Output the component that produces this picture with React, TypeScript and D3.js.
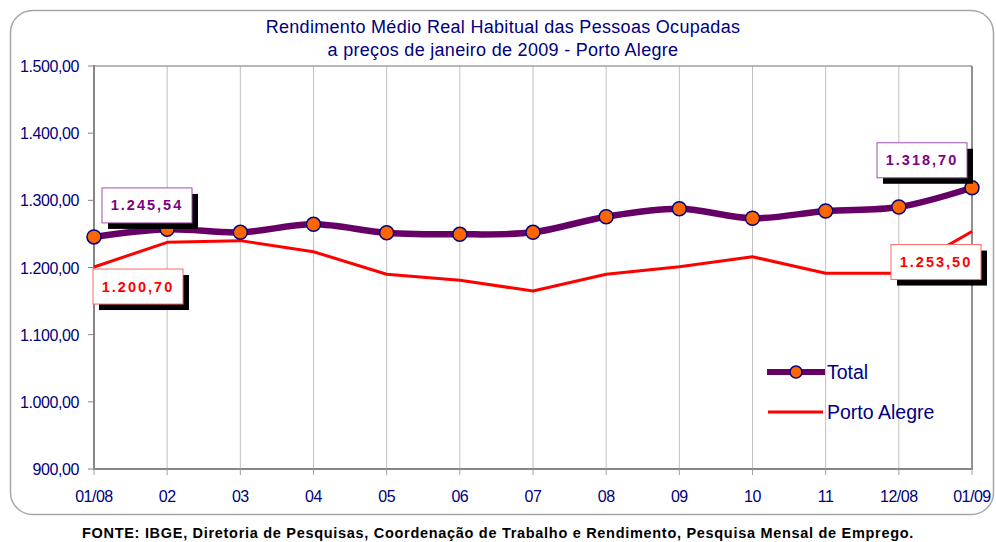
import React from 'react';
import * as d3 from 'd3';

// categories and values
const months = ['01/08', '02', '03', '04', '05', '06', '07', '08', '09', '10', '11', '12/08', '01/09'];
const totalValues = [1245.54, 1256.8, 1252.4, 1264.3, 1251.8, 1249.4, 1252.4, 1275.6, 1287.5, 1273.3, 1284.1, 1290.1, 1318.7];
const portoAlegreValues = [1200.7, 1237.5, 1240.0, 1223.5, 1190.0, 1181.0, 1165.0, 1190.0, 1201.0, 1216.0, 1191.4, 1191.5, 1253.5];
const yTicks = [900, 1000, 1100, 1200, 1300, 1400, 1500];
const titleLines = ['Rendimento Médio Real Habitual das Pessoas Ocupadas', 'a preços de janeiro de 2009 - Porto Alegre'];
const source = 'FONTE: IBGE, Diretoria de Pesquisas, Coordenação de Trabalho e Rendimento, Pesquisa Mensal de Emprego.';

const W = 996;
const H = 542;
const plot = { left: 94, right: 972, top: 66, bottom: 469 };

const NAVY = '#000080';
const PURPLE = '#660066';
const RED = '#FF0000';
const ORANGE = '#FF6600';

const fmt = (v: number) => {
  const [i, d] = v.toFixed(2).split('.');
  return i.replace(/\B(?=(\d{3})+(?!\d))/g, '.') + ',' + d;
};

const Label = ({ x, y, text, color, border }: { x: number; y: number; text: string; color: string; border: string }) => {
  const w = 90;
  const h = 35;
  return (
    <g>
      <rect x={x + 6} y={y + 6} width={w} height={h} fill="#000" />
      <rect x={x} y={y} width={w} height={h} fill="#fff" stroke={border} strokeWidth={1} />
      <text x={x + w / 2} y={y + h / 2 + 5} textAnchor="middle" fill={color}
        style={{ font: 'bold 14.5px "Liberation Sans", Arial, sans-serif', letterSpacing: '2px' }}>
        {text}
      </text>
    </g>
  );
};

export default function App() {
  const x = d3.scalePoint<string>().domain(months).range([plot.left, plot.right]);
  const y = d3.scaleLinear().domain([900, 1500]).range([plot.bottom, plot.top]);

  const totalLine = d3.line<number>()
    .x((_, i) => x(months[i])!)
    .y(d => y(d))
    .curve(d3.curveCatmullRom.alpha(0.5));
  const paLine = d3.line<number>()
    .x((_, i) => x(months[i])!)
    .y(d => y(d));

  const last = months.length - 1;
  const font = '"Liberation Sans", Arial, sans-serif';

  return (
    <svg width={W} height={H} style={{ position: 'absolute', left: 0, top: 0, background: '#fff' }}>
      {/* outer frame */}
      <rect x={10.5} y={10.5} width={983} height={504} rx={22} fill="#fff" stroke="#a6a6a6" strokeWidth={1.5} />

      {/* title */}
      {titleLines.map((t, i) => (
        <text key={i} x={503} y={33 + i * 23} textAnchor="middle" fill={NAVY}
          style={{ font: `18px ${font}`, letterSpacing: '0.3px' }}>{t}</text>
      ))}

      {/* vertical gridlines */}
      {months.map(m => (
        <line key={m} x1={x(m)} x2={x(m)} y1={plot.top} y2={plot.bottom} stroke="#c0c0c0" strokeWidth={1} />
      ))}

      {/* plot frame */}
      <line x1={plot.left} x2={plot.right} y1={plot.top} y2={plot.top} stroke="#a0a0a0" strokeWidth={1.5} />
      <line x1={plot.right} x2={plot.right} y1={plot.top} y2={plot.bottom} stroke="#909090" strokeWidth={2} />
      <line x1={plot.left} x2={plot.right + 1} y1={plot.bottom} y2={plot.bottom} stroke="#868686" strokeWidth={2} />
      <line x1={plot.left} x2={plot.left} y1={plot.top - 1} y2={plot.bottom + 1} stroke="#868686" strokeWidth={2} />

      {/* y ticks and labels */}
      {yTicks.map(t => (
        <g key={t}>
          <line x1={plot.left - 6} x2={plot.left} y1={y(t)} y2={y(t)} stroke="#868686" strokeWidth={1} />
          <text x={79} y={y(t) + 6} textAnchor="end" fill={NAVY}
            style={{ font: `16px ${font}`, letterSpacing: '-0.4px' }}>{fmt(t)}</text>
        </g>
      ))}

      {/* x ticks and labels */}
      {months.map(m => (
        <g key={m}>
          <line x1={x(m)} x2={x(m)} y1={plot.bottom} y2={plot.bottom + 6} stroke="#a0a0a0" strokeWidth={1} />
          <text x={x(m)} y={502} textAnchor="middle" fill={NAVY}
            style={{ font: `16px ${font}`, letterSpacing: '-0.5px' }}>{m}</text>
        </g>
      ))}

      {/* series */}
      <path d={paLine(portoAlegreValues)!} fill="none" stroke={RED} strokeWidth={3} strokeLinejoin="round" />
      <path d={totalLine(totalValues)!} fill="none" stroke={PURPLE} strokeWidth={6.5} strokeLinejoin="round" />
      {totalValues.map((v, i) => (
        <circle key={i} cx={x(months[i])} cy={y(v)} r={7} fill={ORANGE} stroke={NAVY} strokeWidth={1.5} />
      ))}

      {/* data labels */}
      <Label x={x(months[0])! + 8} y={y(totalValues[0]) - 49} text={fmt(totalValues[0])} color="#800080" border="#a050b0" />
      <Label x={x(months[0])! - 1} y={y(portoAlegreValues[0]) + 2} text={fmt(portoAlegreValues[0])} color={RED} border="#ff6666" />
      <Label x={x(months[last])! - 95} y={y(totalValues[last]) - 45} text={fmt(totalValues[last])} color="#800080" border="#a050b0" />
      <Label x={x(months[last])! - 81} y={y(portoAlegreValues[last]) + 13} text={fmt(portoAlegreValues[last])} color={RED} border="#ff6666" />

      {/* legend */}
      <line x1={767} x2={825} y1={372} y2={372} stroke={PURPLE} strokeWidth={6} />
      <circle cx={796} cy={372} r={6} fill={ORANGE} stroke={NAVY} strokeWidth={1.5} />
      <text x={827} y={379} fill={NAVY} style={{ font: `19.5px ${font}` }}>Total</text>
      <line x1={768} x2={823} y1={412} y2={412} stroke={RED} strokeWidth={3} />
      <text x={827} y={419} fill={NAVY} style={{ font: `19.5px ${font}` }}>Porto Alegre</text>

      {/* source */}
      <text x={498} y={538} textAnchor="middle" fill="#000"
        style={{ font: `bold 14.5px ${font}`, letterSpacing: '0.7px' }}>{source}</text>
    </svg>
  );
}
